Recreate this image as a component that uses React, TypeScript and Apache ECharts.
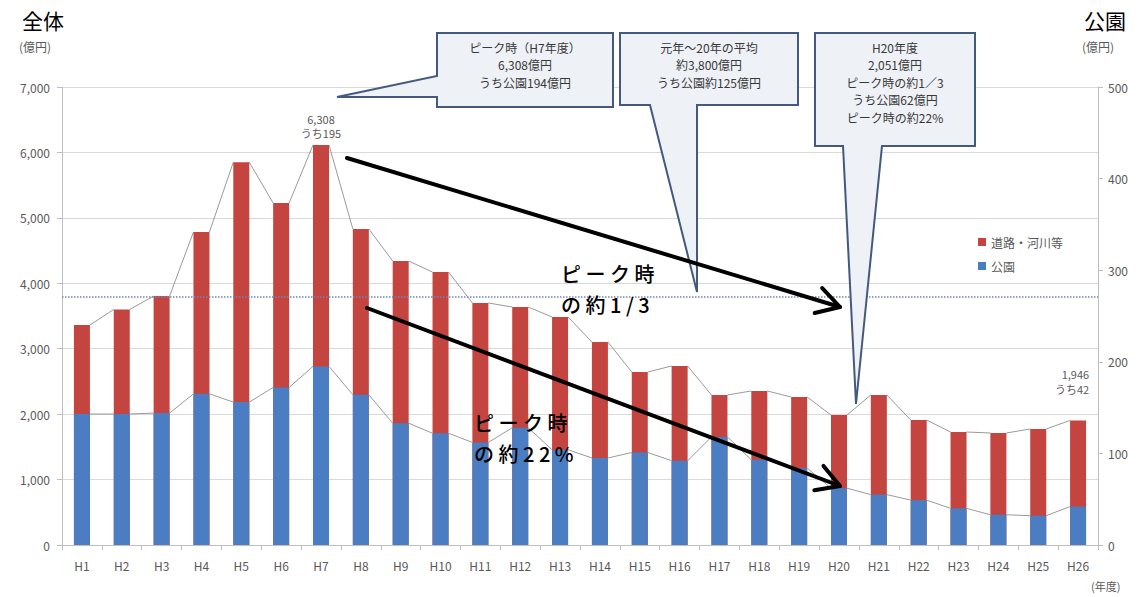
import React, { useEffect, useRef } from "react";
import * as echarts from "echarts";

const categories = ["H1","H2","H3","H4","H5","H6","H7","H8","H9","H10","H11","H12","H13","H14","H15","H16","H17","H18","H19","H20","H21","H22","H23","H24","H25","H26"];
// 道路・河川等 (left axis, 億円)
const roadRiver = [3362, 3600, 3805, 4784, 5850, 5227, 6113, 4830, 4340, 4172, 3699, 3637, 3485, 3102, 2644, 2736, 2293, 2354, 2262, 1987, 2293, 1910, 1727, 1712, 1773, 1904];
// 公園 (right axis, 億円)
const park = [143, 143, 144, 165, 156, 172, 195, 164, 133, 122, 112, 128, 104, 95, 101, 92, 118, 93, 84, 62, 55, 49, 40, 33, 32, 42];
const leftTicks = { min: 0, max: 7000, interval: 1000 };
const rightTicks = { min: 0, max: 500, interval: 100 };
const averageTotal = 3800;

const FONT = '"Noto Sans CJK JP", "Noto Sans", sans-serif';
const RED = "#c4443f";
const BLUE = "#4a7dc1";
const GREY_TEXT = "#595959";

function arrow(x1: number, y1: number, x2: number, y2: number) {
  const dx = x2 - x1, dy = y2 - y1;
  const len = Math.sqrt(dx * dx + dy * dy);
  const ux = -dx / len, uy = -dy / len;
  const L = 26, a = Math.PI / 6;
  const r1 = [ux * Math.cos(a) - uy * Math.sin(a), ux * Math.sin(a) + uy * Math.cos(a)];
  const r2 = [ux * Math.cos(-a) - uy * Math.sin(-a), ux * Math.sin(-a) + uy * Math.cos(-a)];
  return [
    { type: "line", shape: { x1, y1, x2, y2 }, style: { stroke: "#000", lineWidth: 4, lineCap: "round" }, z: 100 },
    {
      type: "polyline",
      shape: { points: [[x2 + r1[0] * L, y2 + r1[1] * L], [x2, y2], [x2 + r2[0] * L, y2 + r2[1] * L]] },
      style: { stroke: "#000", lineWidth: 4, fill: null, lineCap: "round", lineJoin: "round" },
      z: 100,
    },
  ];
}

function seriesLines(values: number[]) {
  const d: number[][] = [];
  for (let i = 0; i < values.length - 1; i++) d.push([i, values[i], values[i + 1]]);
  return d;
}

function lines(x: number, y: number, step: number, texts: string[], font: string, fill: string, align: string) {
  return texts.map((t, k) => ({
    type: "text",
    x,
    y: y + k * step,
    z: 90,
    style: { text: t, font, fill, align, textAlign: align, verticalAlign: "middle", textVerticalAlign: "middle" },
  }));
}

export default function App() {
  const ref = useRef<HTMLDivElement>(null);
  useEffect(() => {
    if (!ref.current) return;
    const chart = echarts.init(ref.current, null, { renderer: "svg" });
    const calloutFill = "#eef1f6";
    const calloutStroke = "#44597f";
    const boxFont = `12px ${FONT}`;
    const boxColor = "#383838";
    const renderSeg = (params: any, api: any) => {
      const i = api.value(0);
      const p1 = api.coord([i, api.value(1)]);
      const p2 = api.coord([i + 1, api.value(2)]);
      return {
        type: "line",
        shape: { x1: p1[0] + 8, y1: p1[1], x2: p2[0] - 8, y2: p2[1] },
        style: { stroke: "#9a9a9a", lineWidth: 1 },
      };
    };
    chart.setOption({
      animation: false,
      textStyle: { fontFamily: FONT },
      grid: { left: 62, right: 48, top: 87, bottom: 52 },
      legend: {
        data: ["道路・河川等", "公園"],
        orient: "vertical",
        left: 973,
        top: 231,
        itemWidth: 8,
        itemHeight: 8,
        itemGap: 12,
        icon: "rect",
        textStyle: { fontSize: 12, color: GREY_TEXT, fontFamily: FONT },
      },
      xAxis: {
        type: "category",
        data: categories,
        axisLine: { lineStyle: { color: "#bfbfbf" } },
        axisTick: { show: true, length: 5, lineStyle: { color: "#bfbfbf" } },
        axisLabel: { color: GREY_TEXT, fontSize: 12, margin: 14 },
      },
      yAxis: [
        {
          type: "value",
          ...leftTicks,
          axisLine: { show: true, lineStyle: { color: "#bfbfbf" } },
          axisTick: { show: true, length: 5, lineStyle: { color: "#bfbfbf" } },
          splitLine: { lineStyle: { color: "#d9d9d9" } },
          axisLabel: { color: GREY_TEXT, fontSize: 12, margin: 12, formatter: (v: number) => v.toLocaleString("en-US") },
        },
        {
          type: "value",
          ...rightTicks,
          axisLine: { show: true, lineStyle: { color: "#bfbfbf" } },
          axisTick: { show: true, length: 5, lineStyle: { color: "#bfbfbf" } },
          splitLine: { show: false },
          axisLabel: { color: GREY_TEXT, fontSize: 12, margin: 10 },
        },
      ],
      series: [
        {
          name: "道路・河川等",
          type: "bar",
          yAxisIndex: 0,
          barWidth: 16,
          barGap: "-100%",
          itemStyle: { color: RED },
          z: 3,
          data: roadRiver.map((v, i) =>
            i === 6
              ? { value: v, label: { show: true, position: "top", distance: 5, formatter: "{a|6,308}\n{a|うち195}", rich: { a: { color: GREY_TEXT, fontSize: 11, lineHeight: 14 } } } }
              : i === 25
              ? { value: v, label: { show: true, position: "top", distance: 24, offset: [-6, 0], formatter: "{a|1,946}\n{a|うち42}", rich: { a: { color: GREY_TEXT, fontSize: 11, lineHeight: 15, align: "right" } } } }
              : v
          ),
          markLine: {
            silent: true,
            symbol: "none",
            label: { show: false },
            lineStyle: { type: "dotted", color: "#6f86b5", width: 1.5 },
            data: [{ yAxis: averageTotal }],
            z: 4,
          },
        },
        {
          name: "公園",
          type: "bar",
          yAxisIndex: 1,
          barWidth: 16,
          barGap: "-100%",
          itemStyle: { color: BLUE },
          z: 5,
          data: park,
        },
        {
          type: "custom",
          yAxisIndex: 0,
          renderItem: renderSeg,
          data: seriesLines(roadRiver),
          encode: { x: 0, y: 1 },
          silent: true,
          z: 2,
        },
        {
          type: "custom",
          yAxisIndex: 1,
          renderItem: renderSeg,
          data: seriesLines(park),
          encode: { x: 0, y: 1 },
          silent: true,
          z: 6,
        },
      ],
      graphic: [
        { type: "text", x: 22, y: 9, style: { text: "全体", font: `21px ${FONT}`, fill: "#000" } },
        { type: "text", x: 19, y: 40, style: { text: "(億円)", font: `12px ${FONT}`, fill: GREY_TEXT } },
        { type: "text", x: 1084, y: 9, style: { text: "公園", font: `21px ${FONT}`, fill: "#000" } },
        { type: "text", x: 1082, y: 40, style: { text: "(億円)", font: `12px ${FONT}`, fill: GREY_TEXT } },
        { type: "text", x: 1091, y: 580, style: { text: "(年度)", font: `11px ${FONT}`, fill: GREY_TEXT } },
        {
          type: "polygon", z: 50,
          shape: { points: [[437, 33], [613, 33], [613, 107], [437, 107], [437, 97], [337, 97], [437, 76]] },
          style: { fill: calloutFill, stroke: calloutStroke, lineWidth: 2 },
        },
        ...lines(525, 47, 17.5, ["ピーク時（H7年度）", "6,308億円", "うち公園194億円"], boxFont, boxColor, "center"),
        {
          type: "polygon", z: 50,
          shape: { points: [[620, 33], [798, 33], [798, 105], [697, 105], [697, 292], [650, 105], [620, 105]] },
          style: { fill: calloutFill, stroke: calloutStroke, lineWidth: 2 },
        },
        ...lines(709, 47, 17.5, ["元年～20年の平均", "約3,800億円", "うち公園約125億円"], boxFont, boxColor, "center"),
        {
          type: "polygon", z: 50,
          shape: { points: [[815, 33], [975, 33], [975, 146], [882, 146], [856, 404], [843, 146], [815, 146]] },
          style: { fill: calloutFill, stroke: calloutStroke, lineWidth: 2 },
        },
        ...lines(895, 47, 17.5, ["H20年度", "2,051億円", "ピーク時の約1／3", "うち公園62億円", "ピーク時の約22%"], boxFont, boxColor, "center"),
        ...arrow(347, 158, 840, 307),
        ...arrow(367, 308, 840, 486),
        ...lines(561, 273, 31, ["ピ ー ク 時", "の 約 1 / 3"], `500 20px ${FONT}`, "#000", "left"),
        ...lines(474, 422, 31, ["ピ ー ク 時", "の 約 2 2 %"], `500 20px ${FONT}`, "#000", "left"),
      ],
    });
    return () => chart.dispose();
  }, []);
  return <div ref={ref} style={{ width: 1146, height: 597, position: "absolute", left: 0, top: 0 }} />;
}
